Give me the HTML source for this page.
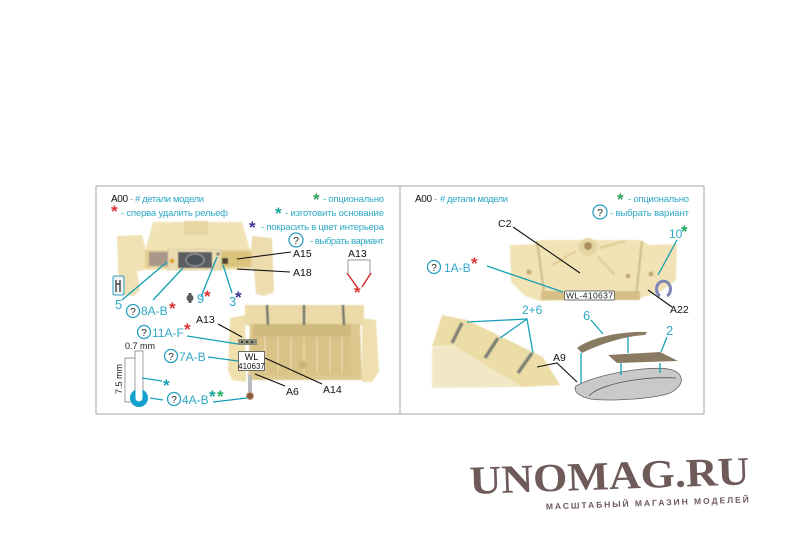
<!DOCTYPE html>
<html><head><meta charset="utf-8"><style>
html,body{margin:0;padding:0;background:#fff;width:800px;height:560px;overflow:hidden}
svg{display:block}
text{font-family:"Liberation Sans",sans-serif}
.t{fill:#2fa9c6;font-size:9.5px}
.n{fill:#2fa9c6;font-size:12px}
.b{fill:#111;font-size:10.5px}
.c{fill:none;stroke:#2a9fc0;stroke-width:1.3}
.l{stroke:#14a0b8;stroke-width:1.3;fill:none}
.k{stroke:#111;stroke-width:1.1;fill:none}
.s{font-size:17px;font-weight:bold}
</style></head><body>
<svg width="800" height="560" viewBox="0 0 800 560" xmlns="http://www.w3.org/2000/svg">
<defs><filter id="b" x="-5%" y="-5%" width="110%" height="110%"><feGaussianBlur stdDeviation="0.6"/></filter></defs>
<rect x="96" y="186" width="608" height="228" fill="#fff" stroke="#a8a8a8" stroke-width="1"/>
<line x1="400" y1="186" x2="400" y2="414" stroke="#a8a8a8"/>

<g filter="url(#b)">
<!-- left top part -->
<path d="M117 236 L142 235 L146 250 L146 270 L137 271 L140 290 L134 296 L121 295 L118 270 Z" fill="#f0e2b4"/>
<path d="M252 236 L272 238 L274 292 L264 296 L256 294 L254 270 L250 268 Z" fill="#ecdcae"/>
<path d="M153 222 L242 222 L250 250 L250 270 L145 270 L146 248 Z" fill="#f1e3b5"/>
<rect x="184" y="221" width="24" height="14" fill="#e6d6a4"/>
<rect x="145" y="250" width="107" height="18" fill="#e2cf96"/>
<rect x="149" y="252" width="20" height="14" fill="#a9978a"/>
<rect x="222" y="252" width="28" height="14" fill="#d9c27a"/>
<rect x="168" y="249" width="53" height="21" fill="#e9dcb2" stroke="#d3c498" stroke-width=".6"/>
<rect x="178" y="252" width="34" height="16" fill="#5c5d60"/>
<ellipse cx="195" cy="260" rx="9" ry="6" fill="#4c5158" stroke="#a3a7aa" stroke-width="1"/>
<circle cx="172" cy="261" r="2.4" fill="#e4a230"/>
<circle cx="218" cy="254" r="1.8" fill="#8b8575"/>
<rect x="222" y="258" width="6" height="6" fill="#4b4030"/>
<!-- left lower part -->
<path d="M230 318 L245 315 L246 382 L232 380 L228 370 Z" fill="#efe0ad"/>
<path d="M362 318 L376 320 L379 372 L372 382 L362 382 Z" fill="#efdfae"/>
<path d="M245 305 L364 305 L364 324 L352 328 L252 328 L245 324 Z" fill="#ecdba8"/>
<path d="M250 324 L360 324 L362 380 L248 380 Z" fill="#ddc88e"/>
<rect x="253" y="324" width="98" height="12" fill="#cfb97e"/>
<rect x="253" y="336" width="98" height="39" fill="#d8c285"/>
<path d="M265 337V373M278 337V373M291 337V373M304 337V373M317 337V373M330 337V373M342 337V373" stroke="#efe2b9" stroke-width="1"/>
<circle cx="303" cy="365" r="4" fill="#cdb577"/>
<path d="M267 305l1 20M304 305l0 20M343 305l1 20" stroke="#777a72" stroke-width="2.6" fill="none"/>
<!-- right top part -->
<path d="M510 245 L537 244 L540 240 L640 240 L650 245 L677 244 L676 280 L660 292 L640 298 L540 301 L525 296 L511 282 Z" fill="#f1e3b6"/>
<path d="M537 241 L545 300M642 241 L636 297" stroke="#d4c28e" stroke-width="2.500" fill="none"/>
<path d="M541 291H640V300H541Z" fill="#d5bf86"/>
<circle cx="588" cy="247" r="9" fill="#e6d5a2"/><circle cx="588" cy="246" r="4" fill="#a98f5a"/>
<path d="M576 251L553 265M598 257L615 275M600 248L625 241" stroke="#e2cf99" stroke-width="2.500"/>
<circle cx="529" cy="272" r="2.500" fill="#c2aa70"/><circle cx="628" cy="276" r="2.500" fill="#c2aa70"/><circle cx="651" cy="274" r="2.500" fill="#c2aa70"/>
<!-- roll -->
<path d="M432 348 L453 345 L522 387 L432 388 Z" fill="#f2e8c6"/>
<path d="M442 315 L467 320 L543 357 L560 385 L522 387 L453 345 L432 347 Z" fill="#ecdca6"/>
<path d="M452 343 L462 323M485 358 L498 338M518 373 L532 353" stroke="#7d8078" stroke-width="3.500" fill="none"/>
</g>

<rect x="113" y="276" width="11" height="19" rx="1.5" fill="#f2f2f2" stroke="#2a9fc0"/>
<path d="M116 280 V292 M120 280 V292 M116 284 H120" stroke="#444" stroke-width="1.4" fill="none"/>
<ellipse cx="190" cy="298" rx="3.5" ry="3.5" fill="#5b5b5b"/><rect x="188.5" y="293" width="3" height="10" fill="#5b5b5b"/>
<rect x="238" y="339" width="19" height="6" fill="#8a8f7a"/>
<path d="M241 342h2M246 342h2M251 342h2" stroke="#222" stroke-width="1.4"/>
<rect x="248" y="375" width="4" height="19" fill="#b9bcc0"/>
<circle cx="250" cy="396" r="3.6" fill="#8b5a3c" stroke="#caa98c"/>
<rect x="238.500" y="351.500" width="26" height="19" fill="#fff" stroke="#333" stroke-width=".7"/>
<text x="251.500" y="360" font-size="9" text-anchor="middle" fill="#111">WL</text>
<text x="251.500" y="369" font-size="8" text-anchor="middle" fill="#111">410637</text>

<!-- tool -->
<rect x="135" y="351" width="8" height="45" fill="#fff" stroke="#777" stroke-width=".7"/>
<path d="M125 358H135M125 358V402H131" fill="none" stroke="#777" stroke-width=".7"/>
<circle cx="139" cy="398" r="9" fill="#14a0cf"/>
<rect x="135.500" y="382" width="7" height="16" fill="#fff"/><circle cx="139" cy="398" r="3.500" fill="#fff"/>
<path d="M142 378L162 381" class="l"/>
<path d="M150 398L163 400" class="l"/>

<!-- left leader lines -->
<g class="l">
<path d="M122 300L167 262"/><path d="M153 300L183 268"/><path d="M201 297L217 257"/><path d="M232 293L223 265"/>
<path d="M187 336L238 344"/><path d="M208 357L238 361"/><path d="M213 402L247 398"/>
</g>
<g class="k">
<path d="M237 259L291 252"/><path d="M237 269L290 272"/><path d="M218 324L242 337"/>
<path d="M265 358L322 384"/><path d="M255 374L285 386"/>
</g>
<path d="M348 273V260H370V273" fill="none" stroke="#999"/>
<path d="M347 273L357 287M371 273L362 287" stroke="#cc3030" stroke-width="1.500" fill="none"/>

<!-- left text -->
<text x="111" y="202" font-size="10" fill="#111" textLength="17">A00</text>
<text x="130" y="202" class="t" style="fill:#888">-</text>
<text x="135" y="202" class="t" textLength="69"># детали модели</text>
<text x="111" y="217" fill="#d33" class="s">*</text>
<text x="121" y="216" class="t" textLength="107">- сперва удалить рельеф</text>
<text x="313" y="205" class="s" fill="#2fa060">*</text>
<text x="323" y="202" class="t" textLength="61">- опционально</text>
<text x="275" y="219" class="s" fill="#16a79a">*</text>
<text x="285" y="216" class="t" textLength="99">- изготовить основание</text>
<text x="249" y="233" class="s" fill="#3b3590">*</text>
<text x="261" y="230" class="t" textLength="123">- покрасить в цвет интерьера</text>
<circle cx="296" cy="240" r="7" class="c"/><text x="296" y="244" font-size="10.500" text-anchor="middle" fill="#222">?</text>
<text x="310" y="244" class="t" textLength="74">- выбрать вариант</text>
<text x="293" y="257" class="b">A15</text><text x="293" y="276" class="b">A18</text>
<text x="348" y="257" class="b">A13</text>
<text x="354" y="298" class="s" fill="#d33">*</text>
<text x="115" y="309" class="n" style="font-size:13px">5</text>
<circle cx="133" cy="311" r="6.500" class="c"/><text x="133" y="315" font-size="10" text-anchor="middle" fill="#222">?</text>
<text x="141" y="315" class="n">8A-B</text><text x="169" y="314" class="s" fill="#d33">*</text>
<text x="197" y="303" class="n" style="font-size:13px">9</text><text x="204" y="302" class="s" fill="#d33">*</text>
<text x="229" y="306" class="n" style="font-size:13px">3</text><text x="235" y="303" class="s" fill="#3b3590">*</text>
<text x="196" y="323" class="b">A13</text>
<circle cx="144" cy="332" r="6.500" class="c"/><text x="144" y="336" font-size="10" text-anchor="middle" fill="#222">?</text>
<text x="152" y="337" class="n">11A-F</text><text x="184" y="335" class="s" fill="#d33">*</text>
<text x="125" y="349" font-size="9" fill="#222">0.7 mm</text>
<circle cx="171" cy="356" r="6.500" class="c"/><text x="171" y="360" font-size="10" text-anchor="middle" fill="#222">?</text>
<text x="179" y="361" class="n">7A-B</text>
<text x="122" y="394" font-size="9" fill="#222" transform="rotate(-90 122 394)">7.5 mm</text>
<text x="163" y="391" class="s" fill="#16a0b4">*</text>
<circle cx="174" cy="399" r="6.500" class="c"/><text x="174" y="403" font-size="10" text-anchor="middle" fill="#222">?</text>
<text x="182" y="404" class="n">4A-B</text>
<text x="209" y="402" class="s" fill="#16a79a">*</text><text x="217" y="402" class="s" fill="#20b060">*</text>
<text x="286" y="395" class="b">A6</text><text x="323" y="393" class="b">A14</text>

<path d="M660 296 A7 8 0 1 1 667 296" fill="none" stroke="#7d87b5" stroke-width="3"/>
<rect x="564.500" y="291" width="50" height="9" rx="1" fill="#fff" stroke="#444" stroke-width=".7"/>
<text x="566" y="298.500" font-size="8.500" fill="#222" textLength="47">WL-410637</text>
<path d="M487 266L563 292M677 240L658 275" class="l"/>
<path d="M513 227L580 273M648 290L672 307" class="k"/>

<path d="M467 322L527 319L533 353M527 319L500 338" class="l"/>
<path d="M537 367L557 363L577 382" class="k"/>
<path d="M576 386 C600 373 650 366 668 369 C685 372 686 385 670 393 C650 400 605 401 590 399 C578 396 573 391 576 386Z" fill="#c9c9c9" stroke="#666" stroke-width=".8"/>
<path d="M589 396 C598 385 640 376 676 378" fill="none" stroke="#555" stroke-width=".8"/>
<path d="M577 348 C590 338 620 331 647 332 L645 335 C625 336 600 344 582 353 Z" fill="#8a7a62"/>
<path d="M608 355L660 352L678 361L617 363Z" fill="#8a7a62"/>
<g class="l">
<path d="M581 353V383M628 337V353M621 363V375M660 363V373"/>
<path d="M591 320L603 334M667 337L661 352"/>
</g>

<!-- right text -->
<text x="415" y="202" font-size="10" fill="#111" textLength="17">A00</text>
<text x="434" y="202" class="t" style="fill:#888">-</text>
<text x="440" y="202" class="t" textLength="68"># детали модели</text>
<text x="617" y="205" class="s" fill="#2fa060">*</text>
<text x="628" y="202" class="t" textLength="61">- опционально</text>
<circle cx="600" cy="212" r="7" class="c"/><text x="600" y="216" font-size="10.500" text-anchor="middle" fill="#222">?</text>
<text x="610" y="216" class="t" textLength="79">- выбрать вариант</text>
<text x="498" y="227" class="b">C2</text>
<text x="669" y="238" class="n">10</text><text x="681" y="237" class="s" fill="#16a860">*</text>
<circle cx="434" cy="267" r="6.500" class="c"/><text x="434" y="271" font-size="10" text-anchor="middle" fill="#222">?</text>
<text x="444" y="272" class="n">1A-B</text><text x="471" y="269" class="s" fill="#d33">*</text>
<text x="670" y="313" class="b">A22</text>
<text x="522" y="314" class="n">2+6</text>
<text x="553" y="361" class="b">A9</text>
<text x="583" y="320" class="n" style="font-size:13px">6</text><text x="666" y="335" class="n" style="font-size:13px">2</text>

<!-- logo -->
<text x="470" y="494" transform="rotate(-2 470 494)" font-size="40" font-weight="bold" fill="#6f5a5a" textLength="280" lengthAdjust="spacingAndGlyphs" style="font-family:'Liberation Serif',serif">UNOMAG.RU</text>
<text x="546" y="509.500" transform="rotate(-2 546 509.500)" font-size="8.500" font-weight="bold" fill="#6f5a5a" textLength="203">МАСШТАБНЫЙ МАГАЗИН МОДЕЛЕЙ</text>
</svg>
</body></html>
